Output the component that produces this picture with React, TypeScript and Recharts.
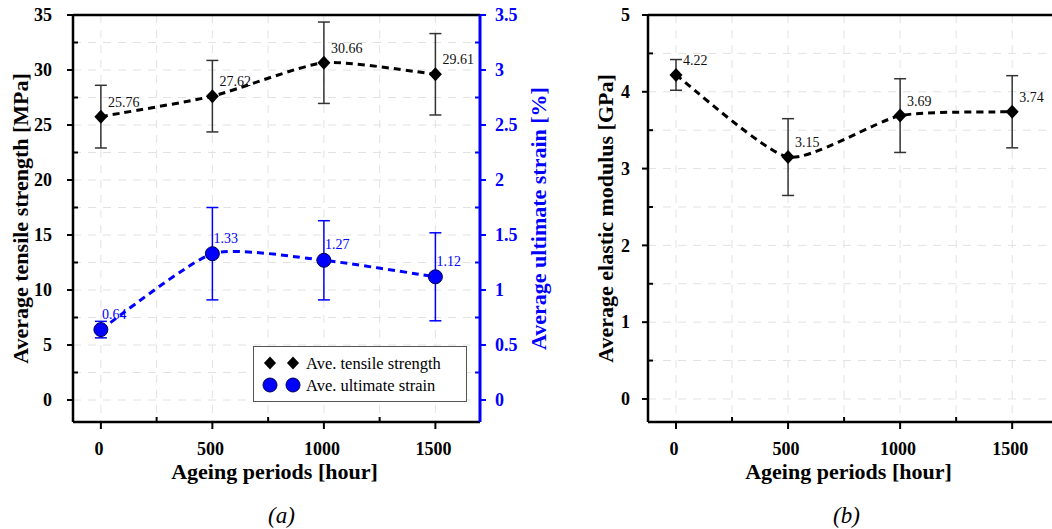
import {
  CartesianGrid,
  ComposedChart,
  ErrorBar,
  LabelList,
  Legend,
  Line,
  ReferenceLine,
  XAxis,
  YAxis,
} from "recharts";

const periods = [0, 500, 1000, 1500];
const tensileStrength = [25.76, 27.62, 30.66, 29.61];
const tensileError = [2.85, 3.25, 3.7, 3.7];
const ultimateStrain = [0.64, 1.33, 1.27, 1.12];
const strainError = [0.075, 0.42, 0.36, 0.4];
const elasticModulus = [4.22, 3.15, 3.69, 3.74];
const modulusError = [0.2, 0.5, 0.48, 0.47];

const periodTicks = [0, 250, 500, 750, 1000, 1250, 1500];
const tensileTicks = [0, 2.5, 5, 7.5, 10, 12.5, 15, 17.5, 20, 22.5, 25, 27.5, 30, 32.5, 35];
const strainTicks = [0, 0.25, 0.5, 0.75, 1, 1.25, 1.5, 1.75, 2, 2.25, 2.5, 2.75, 3, 3.25, 3.5];
const modulusTicks = [0, 0.5, 1, 1.5, 2, 2.5, 3, 3.5, 4, 4.5, 5];

const legendItems = [
  { label: "Ave. tensile strength", marker: "diamond" },
  { label: "Ave. ultimate strain", marker: "circle" },
];

const dataA = periods.map((p, i) => ({
  period: p,
  tensile: tensileStrength[i],
  tensileErr: tensileError[i],
  strain: ultimateStrain[i],
  strainErr: strainError[i],
}));

const dataB = periods.map((p, i) => ({
  period: p,
  modulus: elasticModulus[i],
  modulusErr: modulusError[i],
}));

const serif = '"Liberation Serif", "Times New Roman", serif';
const BLUE = "#0000ff";

// cardinal spline (like origin's spline connector), passed to Line as its curve type
function cardinal(tension: number) {
  const k = (1 - tension) / 6;
  return (context: any) => {
    let pts: number[][] = [];
    return {
      areaStart() {},
      areaEnd() {},
      lineStart() {
        pts = [];
      },
      point(x: number, y: number) {
        pts.push([+x, +y]);
      },
      lineEnd() {
        if (!pts.length) return;
        context.moveTo(pts[0][0], pts[0][1]);
        for (let i = 0; i < pts.length - 1; i++) {
          const p0 = pts[Math.max(i - 1, 0)];
          const p1 = pts[i];
          const p2 = pts[i + 1];
          const p3 = pts[Math.min(i + 2, pts.length - 1)];
          context.bezierCurveTo(
            p1[0] + k * (p2[0] - p0[0]),
            p1[1] + k * (p2[1] - p0[1]),
            p2[0] - k * (p3[0] - p1[0]),
            p2[1] - k * (p3[1] - p1[1]),
            p2[0],
            p2[1]
          );
        }
      },
    };
  };
}
const spline = cardinal(0.4);

const isMajor = (v: number, step: number) => Math.abs(v / step - Math.round(v / step)) < 1e-6;

// y ticks: major ones go outwards with a label, minor ones point into the plot
function yTick(side: "left" | "right", step: number, color: string, gap: number) {
  const dir = side === "left" ? -1 : 1;
  return (props: any) => {
    const { x, y, payload } = props;
    const v = payload.value;
    if (!isMajor(v, step)) {
      return <line x1={x} x2={x - dir * 5} y1={y} y2={y} stroke={color} strokeWidth={2} />;
    }
    return (
      <g>
        <line x1={x} x2={x + dir * 6} y1={y} y2={y} stroke={color} strokeWidth={2} />
        <text
          x={x + dir * gap}
          y={y}
          dy="0.35em"
          textAnchor={side === "left" ? "end" : "start"}
          fill={color}
          fontFamily={serif}
          fontWeight="bold"
          fontSize={18}
        >
          {v}
        </text>
      </g>
    );
  };
}

const xTick = (props: any) => {
  const { x, y, payload } = props;
  const v = payload.value;
  if (!isMajor(v, 500)) {
    return <line x1={x} x2={x} y1={y} y2={y - 5} stroke="#000" strokeWidth={2} />;
  }
  return (
    <g>
      <line x1={x} x2={x} y1={y} y2={y + 7} stroke="#000" strokeWidth={2} />
      <text x={x - 2} y={y + 33} textAnchor="middle" fontFamily={serif} fontWeight="bold" fontSize={18}>
        {v}
      </text>
    </g>
  );
};

const yTitle = (text: string, color: string, cx: number) => (props: any) => {
  const vb = props.viewBox;
  const cy = vb.y + vb.height / 2;
  return (
    <text
      x={cx}
      y={cy}
      transform={`rotate(-90 ${cx} ${cy})`}
      textAnchor="middle"
      dominantBaseline="central"
      fill={color}
      fontFamily={serif}
      fontWeight="bold"
      fontSize={22}
    >
      {text}
    </text>
  );
};

const xTitle = (caption: string, dxTitle: number, dxCaption: number) => (props: any) => {
  const vb = props.viewBox;
  const cx = vb.x + vb.width / 2;
  return (
    <g>
      <text x={cx + dxTitle} y={vb.y + 57} textAnchor="middle" fontFamily={serif} fontWeight="bold" fontSize={22}>
        Ageing periods [hour]
      </text>
      <text x={cx + dxCaption} y={vb.y + 101} textAnchor="middle" fontFamily={serif} fontStyle="italic" fontSize={23}>
        {caption}
      </text>
    </g>
  );
};

const diamondPath = (cx: number, cy: number, r: number) =>
  `M${cx},${cy - r} L${cx + r * 0.93},${cy} L${cx},${cy + r} L${cx - r * 0.93},${cy} Z`;

const diamondDot = (props: any) => (
  <path key={`dia-${props.index}`} d={diamondPath(props.cx, props.cy, 7)} fill="#000" />
);

const blueDot = (props: any) => (
  <circle key={`cir-${props.index}`} cx={props.cx} cy={props.cy} r={7} fill={BLUE} stroke="#000050" strokeWidth={1} />
);

const valueLabel = (color: string, dx: number, dy: number) => (props: any) => (
  <text
    key={`lab-${props.index}`}
    x={props.x + dx}
    y={props.y + dy}
    fill={color}
    fontFamily={serif}
    fontSize={14}
  >
    {Number(props.value).toFixed(2)}
  </text>
);

function LegendBox() {
  return (
    <svg width={214} height={56} style={{ display: "block" }}>
      <rect x={0.5} y={0.5} width={213} height={55} fill="#fff" stroke="#555" strokeWidth={1} />
      {legendItems.map((item, i) => {
        const cy = 17 + i * 22;
        return (
          <g key={item.label}>
            {[17, 40].map((cx) =>
              item.marker === "diamond" ? (
                <path key={cx} d={diamondPath(cx, cy, 6.5)} fill="#000" />
              ) : (
                <circle key={cx} cx={cx} cy={cy} r={7} fill={BLUE} stroke="#000050" strokeWidth={1} />
              )
            )}
            <text x={53} y={cy} dy="0.35em" fontFamily={serif} fontSize={16.5}>
              {item.label}
            </text>
          </g>
        );
      })}
    </svg>
  );
}

export default function App() {
  return (
    <div
      style={{
        position: "absolute",
        left: 0,
        top: 0,
        width: 1052,
        height: 529,
        overflow: "hidden",
        background: "#fff",
      }}
    >
      {/* (a) tensile strength + ultimate strain */}
      <div style={{ position: "absolute", left: 0, top: 0 }}>
        <ComposedChart width={560} height={529} data={dataA} margin={{ top: 15, right: 0, bottom: 0, left: 0 }}>
          <CartesianGrid yAxisId="left" stroke="#e2e2e2" strokeDasharray="8 7" />
          <XAxis
            dataKey="period"
            type="number"
            domain={[-125, 1700]}
            ticks={periodTicks}
            interval={0}
            height={107}
            tickSize={0}
            tickMargin={0}
            tick={xTick}
            axisLine={{ stroke: "#000", strokeWidth: 2.5 }}
            label={{ content: xTitle("(a)", -2, 5) }}
          />
          <YAxis
            yAxisId="left"
            type="number"
            domain={[-2, 35]}
            ticks={tensileTicks}
            interval={0}
            allowDataOverflow
            width={73}
            tickSize={0}
            tickMargin={0}
            tick={yTick("left", 5, "#000", 21)}
            axisLine={{ stroke: "#000", strokeWidth: 2.5 }}
            label={{ content: yTitle("Average tensile strength [MPa]", "#000", 20) }}
          />
          <YAxis
            yAxisId="right"
            orientation="right"
            type="number"
            domain={[-0.2, 3.5]}
            ticks={strainTicks}
            interval={0}
            allowDataOverflow
            width={80}
            tickSize={0}
            tickMargin={0}
            tick={yTick("right", 0.5, BLUE, 15)}
            axisLine={{ stroke: BLUE, strokeWidth: 3 }}
            label={{ content: yTitle("Average ultimate strain [%]", BLUE, 538) }}
          />
          <ReferenceLine yAxisId="left" y={35} stroke="#000" strokeWidth={2.5} />
          <Line
            yAxisId="left"
            dataKey="tensile"
            type={spline}
            stroke="#000"
            strokeWidth={3}
            strokeDasharray="7 5"
            dot={diamondDot}
            activeDot={false}
            isAnimationActive={false}
          >
            <ErrorBar dataKey="tensileErr" width={6} stroke="#333" strokeWidth={1.5} />
            <LabelList dataKey="tensile" content={valueLabel("#111", 7, -10)} />
          </Line>
          <Line
            yAxisId="right"
            dataKey="strain"
            type={spline}
            stroke={BLUE}
            strokeWidth={3}
            strokeDasharray="7 5"
            dot={blueDot}
            activeDot={false}
            isAnimationActive={false}
          >
            <ErrorBar dataKey="strainErr" width={6} stroke={BLUE} strokeWidth={1.5} />
            <LabelList dataKey="strain" content={valueLabel(BLUE, 1, -11)} />
          </Line>
          <Legend
            layout="vertical"
            align="center"
            verticalAlign="middle"
            wrapperStyle={{ left: 253, top: 346, width: 214, height: 56 }}
            content={() => <LegendBox />}
          />
        </ComposedChart>
      </div>

      {/* (b) elastic modulus */}
      <div style={{ position: "absolute", left: 560, top: 0 }}>
        <ComposedChart width={500} height={529} data={dataB} margin={{ top: 15, right: 3, bottom: 0, left: 0 }}>
          <CartesianGrid yAxisId="left" stroke="#e2e2e2" strokeDasharray="8 7" />
          <XAxis
            dataKey="period"
            type="number"
            domain={[-125, 1700]}
            ticks={periodTicks}
            interval={0}
            height={107}
            tickSize={0}
            tickMargin={0}
            tick={xTick}
            axisLine={{ stroke: "#000", strokeWidth: 2.5 }}
            label={{ content: xTitle("(b)", -4, -6) }}
          />
          <YAxis
            yAxisId="left"
            type="number"
            domain={[-0.3, 5]}
            ticks={modulusTicks}
            interval={0}
            allowDataOverflow
            width={88}
            tickSize={0}
            tickMargin={0}
            tick={yTick("left", 1, "#000", 18)}
            axisLine={{ stroke: "#000", strokeWidth: 2.5 }}
            label={{ content: yTitle("Average elastic modulus [GPa]", "#000", 45) }}
          />
          <ReferenceLine yAxisId="left" y={5} stroke="#000" strokeWidth={2.5} />
          <Line
            yAxisId="left"
            dataKey="modulus"
            type={spline}
            stroke="#000"
            strokeWidth={3}
            strokeDasharray="7 5"
            dot={diamondDot}
            activeDot={false}
            isAnimationActive={false}
          >
            <ErrorBar dataKey="modulusErr" width={6} stroke="#333" strokeWidth={1.5} />
            <LabelList dataKey="modulus" content={valueLabel("#111", 7, -10)} />
          </Line>
        </ComposedChart>
      </div>
    </div>
  );
}
